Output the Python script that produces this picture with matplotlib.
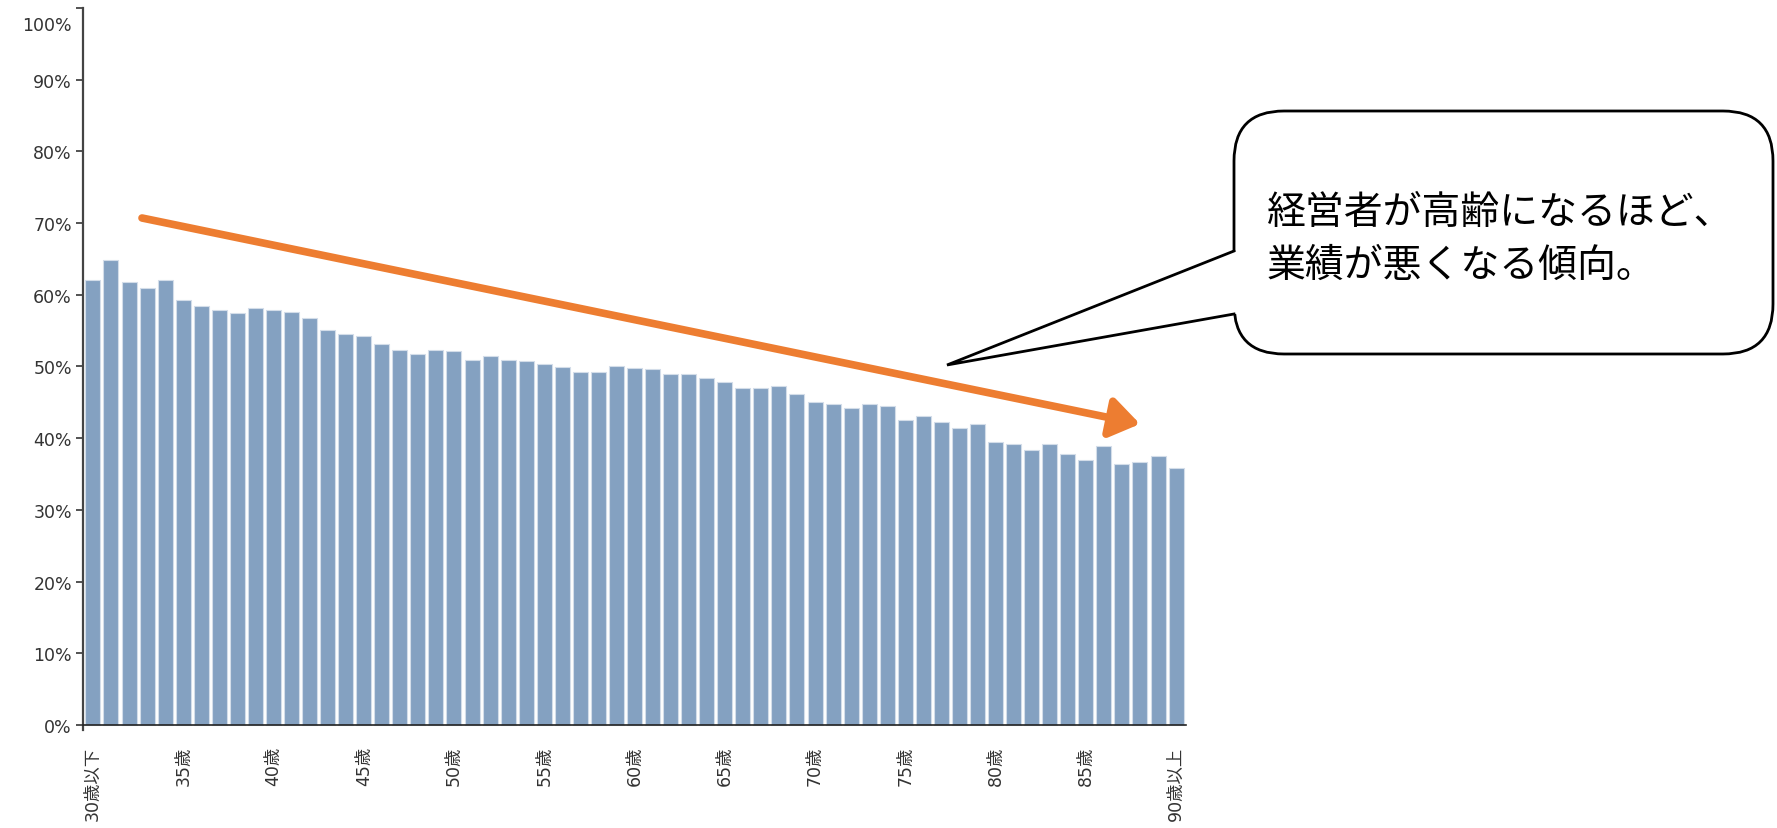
import matplotlib
matplotlib.use('Agg')
import matplotlib.pyplot as plt
import matplotlib.transforms as mtransforms
from matplotlib.patches import FancyBboxPatch, Polygon

plt.rcParams['font.family'] = ['DejaVu Sans', 'Noto Sans CJK JP']

# age groups: 30歳以下, 31..89, 90歳以上
ages = ['30歳以下'] + [f'{a}歳' for a in range(31, 90)] + ['90歳以上']
shares = [62.1, 64.9, 61.8, 61.0, 62.1, 59.3, 58.5, 57.9, 57.4, 58.2,
          57.9, 57.6, 56.8, 55.1, 54.6, 54.3, 53.2, 52.3, 51.8, 52.3,
          52.1, 50.9, 51.5, 50.9, 50.7, 50.4, 49.9, 49.3, 49.3, 50.1,
          49.8, 49.6, 49.0, 49.0, 48.4, 47.9, 47.0, 47.0, 47.3, 46.2,
          45.0, 44.8, 44.2, 44.8, 44.5, 42.5, 43.1, 42.3, 41.4, 42.0,
          39.5, 39.2, 38.4, 39.2, 37.8, 37.0, 38.9, 36.4, 36.7, 37.5,
          35.8]
yticks = list(range(0, 101, 10))
label_every = 5
note_lines = ['経営者が高齢になるほど、', '業績が悪くなる傾向。']

W, H = 1777, 829
fig = plt.figure(figsize=(W / 100, H / 100), dpi=100)
ax = fig.add_axes([83 / W, 1 - 731 / H, (1186 - 83) / W, (731 - 9) / H])

# spine setup first: set_position resets the tick objects
for s in ['top', 'right']:
    ax.spines[s].set_visible(False)
ax.spines['left'].set_color('#444444')
ax.spines['left'].set_linewidth(1.6)
ax.spines['bottom'].set_position(('data', 0))
ax.spines['bottom'].set_color('#222222')
ax.spines['bottom'].set_linewidth(1.2)

x = list(range(len(ages)))
ax.bar(x, shares, width=0.83, color='#84a1c1', edgecolor='#d3dde9', linewidth=0.8)

ax.set_xlim(-0.55, len(ages) - 0.45)
ax.set_ylim(-0.7, 100)
ax.set_yticks(yticks)
ax.set_yticklabels([f'{v}%' for v in yticks], fontsize=12.5, color='#333333')
ax.set_xticks(x[::label_every])
ax.set_xticklabels(ages[::label_every], rotation=90, va='top', ha='center',
                   fontsize=12.5, color='#333333')
ax.tick_params(axis='y', length=5, width=1.3, color='#444444', pad=3)
ax.tick_params(axis='x', length=0, pad=15)

fig.canvas.draw()
# top label sits a little below the axis end, as in the original
top_lbl = ax.get_yticklabels()[-1]
top_lbl.set_transform(top_lbl.get_transform() +
                      mtransforms.ScaledTranslation(0, -0.15, fig.dpi_scale_trans))

# overlay in pixel coordinates for the trend arrow and callout
ov = fig.add_axes([0, 0, 1, 1])
ov.set_xlim(0, W)
ov.set_ylim(H, 0)
ov.axis('off')
ov.patch.set_alpha(0)

ov.annotate('', xy=(1140, 425), xytext=(142, 219),
            arrowprops=dict(arrowstyle='-|>,head_length=0.8,head_width=0.55',
                            color='#ed7d31', lw=5.5, mutation_scale=22,
                            shrinkA=0, shrinkB=0))

box = FancyBboxPatch((1234 + 50, 112 + 50), 1773 - 1234 - 100, 355 - 112 - 100,
                     boxstyle='round,pad=50', facecolor='white',
                     edgecolor='black', linewidth=2)
ov.add_patch(box)
tip = (947, 366)
b1, b2 = (1234, 252), (1234, 315)
ov.add_patch(Polygon([b1, tip, b2, (1238, 315), (1238, 252)], closed=True,
                     facecolor='white', edgecolor='none', zorder=3))
ov.plot([b1[0], tip[0], b2[0]], [b1[1], tip[1], b2[1]], color='black', lw=2,
        zorder=4, solid_joinstyle='miter')

ov.text(1267, 213, note_lines[0], fontsize=28, family=['Noto Sans CJK JP'],
        va='center', ha='left', zorder=5)
ov.text(1267, 266, note_lines[1], fontsize=28, family=['Noto Sans CJK JP'],
        va='center', ha='left', zorder=5)

fig.savefig('out.png', dpi=100)
